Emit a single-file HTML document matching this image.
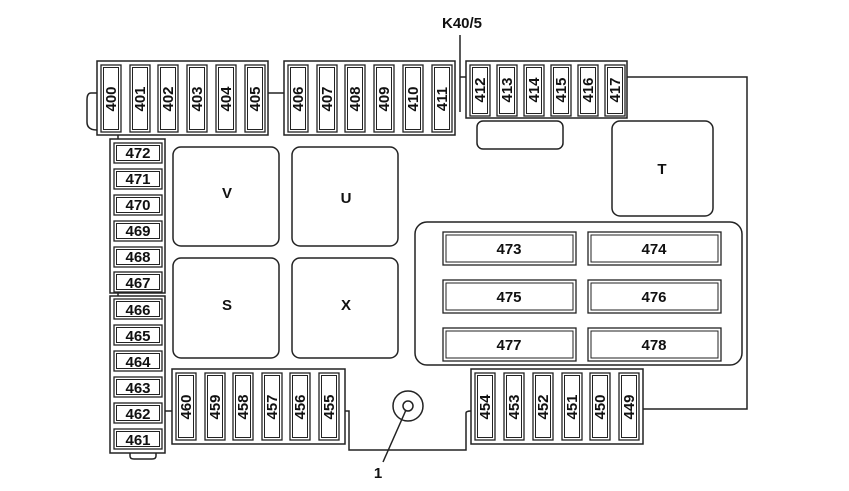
<!DOCTYPE html>
<html><head><meta charset="utf-8"><style>
html,body{margin:0;padding:0;background:#fff;}
svg{display:block;}
text{font-family:"Liberation Sans",sans-serif;font-weight:bold;fill:#111;}
</style></head><body>
<svg width="849" height="491" viewBox="0 0 849 491" xmlns="http://www.w3.org/2000/svg">
<defs>
<g id="vf"><rect x="0" y="0" width="20" height="67" fill="none" stroke="#222" stroke-width="1.3"/><rect x="2.5" y="2.5" width="15" height="62" fill="none" stroke="#222" stroke-width="1"/></g>
<g id="vf3"><rect x="0" y="0" width="20" height="51" fill="none" stroke="#222" stroke-width="1.3"/><rect x="2.5" y="2.5" width="15" height="46" fill="none" stroke="#222" stroke-width="1"/></g>
<g id="hf"><rect x="0" y="0" width="48" height="20" fill="none" stroke="#222" stroke-width="1.3"/><rect x="2.5" y="2.5" width="43" height="15" fill="none" stroke="#222" stroke-width="1"/></g>
<g id="bf"><rect x="0" y="0" width="133" height="33" fill="none" stroke="#222" stroke-width="1.3"/><rect x="3" y="3" width="127" height="27" fill="none" stroke="#222" stroke-width="1"/></g>
</defs>
<g fill="none" stroke="#222" stroke-width="1.5">
<rect x="97" y="61" width="171" height="74"/>
<path d="M97 93 H91 Q87 93 87 100 V122 Q87 130 97 130"/>
<line x1="268" y1="93" x2="284" y2="93"/>
<rect x="284" y="61" width="171" height="74"/>
<rect x="466" y="61" width="161" height="57"/>
<line x1="460" y1="35" x2="460" y2="112"/>
<line x1="460" y1="77" x2="466" y2="77"/>
<path d="M627 77 H747 V409 H643"/>
<rect x="477" y="121" width="86" height="28" rx="6"/>
<rect x="612" y="121" width="101" height="95" rx="8"/>
<rect x="415" y="222" width="327" height="143" rx="12"/>
<rect x="173" y="147" width="106" height="99" rx="8"/>
<rect x="292" y="147" width="106" height="99" rx="8"/>
<rect x="173" y="258" width="106" height="100" rx="8"/>
<rect x="292" y="258" width="106" height="100" rx="8"/>
<rect x="110" y="139" width="55" height="154"/>
<rect x="110" y="296" width="55" height="157"/>
<line x1="118" y1="135" x2="118" y2="139"/>
<line x1="118" y1="293" x2="118" y2="296"/>
<path d="M130 453 V456 Q130 459 134 459 H152 Q156 459 156 456 V453"/>
<rect x="172" y="369" width="173" height="75"/>
<line x1="165" y1="411" x2="172" y2="411"/>
<rect x="471" y="369" width="172" height="75"/>
<path d="M345 411 H349 V450 H466 V413 Q466 411 471 411"/>
<circle cx="408" cy="406" r="15"/>
<circle cx="408" cy="406" r="5"/>
<line x1="406" y1="410" x2="383" y2="462"/>
</g>
<use href="#vf" x="101" y="65"/><use href="#vf" x="130" y="65"/><use href="#vf" x="158" y="65"/><use href="#vf" x="187" y="65"/><use href="#vf" x="216" y="65"/><use href="#vf" x="245" y="65"/>
<use href="#vf" x="288" y="65"/><use href="#vf" x="317" y="65"/><use href="#vf" x="345" y="65"/><use href="#vf" x="374" y="65"/><use href="#vf" x="403" y="65"/><use href="#vf" x="432" y="65"/>
<use href="#vf3" x="470" y="65"/><use href="#vf3" x="497" y="65"/><use href="#vf3" x="524" y="65"/><use href="#vf3" x="551" y="65"/><use href="#vf3" x="578" y="65"/><use href="#vf3" x="605" y="65"/>
<use href="#vf" x="176" y="373"/><use href="#vf" x="205" y="373"/><use href="#vf" x="233" y="373"/><use href="#vf" x="262" y="373"/><use href="#vf" x="290" y="373"/><use href="#vf" x="319" y="373"/>
<use href="#vf" x="475" y="373"/><use href="#vf" x="504" y="373"/><use href="#vf" x="533" y="373"/><use href="#vf" x="562" y="373"/><use href="#vf" x="590" y="373"/><use href="#vf" x="619" y="373"/>
<use href="#hf" x="114" y="143"/><use href="#hf" x="114" y="169"/><use href="#hf" x="114" y="195"/><use href="#hf" x="114" y="221"/><use href="#hf" x="114" y="247"/><use href="#hf" x="114" y="272"/>
<use href="#hf" x="114" y="299"/><use href="#hf" x="114" y="325"/><use href="#hf" x="114" y="351"/><use href="#hf" x="114" y="377"/><use href="#hf" x="114" y="403"/><use href="#hf" x="114" y="429"/>
<use href="#bf" x="443" y="232"/><use href="#bf" x="588" y="232"/>
<use href="#bf" x="443" y="280"/><use href="#bf" x="588" y="280"/>
<use href="#bf" x="443" y="328"/><use href="#bf" x="588" y="328"/>
<g font-size="15" text-anchor="middle">
<text transform="translate(116,99) rotate(-90)">400</text>
<text transform="translate(145,99) rotate(-90)">401</text>
<text transform="translate(173,99) rotate(-90)">402</text>
<text transform="translate(202,99) rotate(-90)">403</text>
<text transform="translate(231,99) rotate(-90)">404</text>
<text transform="translate(260,99) rotate(-90)">405</text>
<text transform="translate(303,99) rotate(-90)">406</text>
<text transform="translate(332,99) rotate(-90)">407</text>
<text transform="translate(360,99) rotate(-90)">408</text>
<text transform="translate(389,99) rotate(-90)">409</text>
<text transform="translate(418,99) rotate(-90)">410</text>
<text transform="translate(447,99) rotate(-90)">411</text>
<text transform="translate(485,90) rotate(-90)">412</text>
<text transform="translate(512,90) rotate(-90)">413</text>
<text transform="translate(539,90) rotate(-90)">414</text>
<text transform="translate(566,90) rotate(-90)">415</text>
<text transform="translate(593,90) rotate(-90)">416</text>
<text transform="translate(620,90) rotate(-90)">417</text>
<text transform="translate(191,407) rotate(-90)">460</text>
<text transform="translate(220,407) rotate(-90)">459</text>
<text transform="translate(248,407) rotate(-90)">458</text>
<text transform="translate(277,407) rotate(-90)">457</text>
<text transform="translate(305,407) rotate(-90)">456</text>
<text transform="translate(334,407) rotate(-90)">455</text>
<text transform="translate(490,407) rotate(-90)">454</text>
<text transform="translate(519,407) rotate(-90)">453</text>
<text transform="translate(548,407) rotate(-90)">452</text>
<text transform="translate(577,407) rotate(-90)">451</text>
<text transform="translate(605,407) rotate(-90)">450</text>
<text transform="translate(634,407) rotate(-90)">449</text>
</g>
<g font-size="15" text-anchor="middle">
<text x="138" y="158">472</text><text x="138" y="184">471</text><text x="138" y="210">470</text>
<text x="138" y="236">469</text><text x="138" y="262">468</text><text x="138" y="288">467</text>
<text x="138" y="315">466</text><text x="138" y="341">465</text><text x="138" y="367">464</text>
<text x="138" y="393">463</text><text x="138" y="419">462</text><text x="138" y="445">461</text>
<text x="509" y="254">473</text><text x="654" y="254">474</text>
<text x="509" y="302">475</text><text x="654" y="302">476</text>
<text x="509" y="350">477</text><text x="654" y="350">478</text>
<text x="227" y="198">V</text><text x="346" y="203">U</text>
<text x="227" y="310">S</text><text x="346" y="310">X</text>
<text x="662" y="174">T</text>
<text x="462" y="28">K40/5</text>
<text x="378" y="478">1</text>
</g>
</svg>
</body></html>
